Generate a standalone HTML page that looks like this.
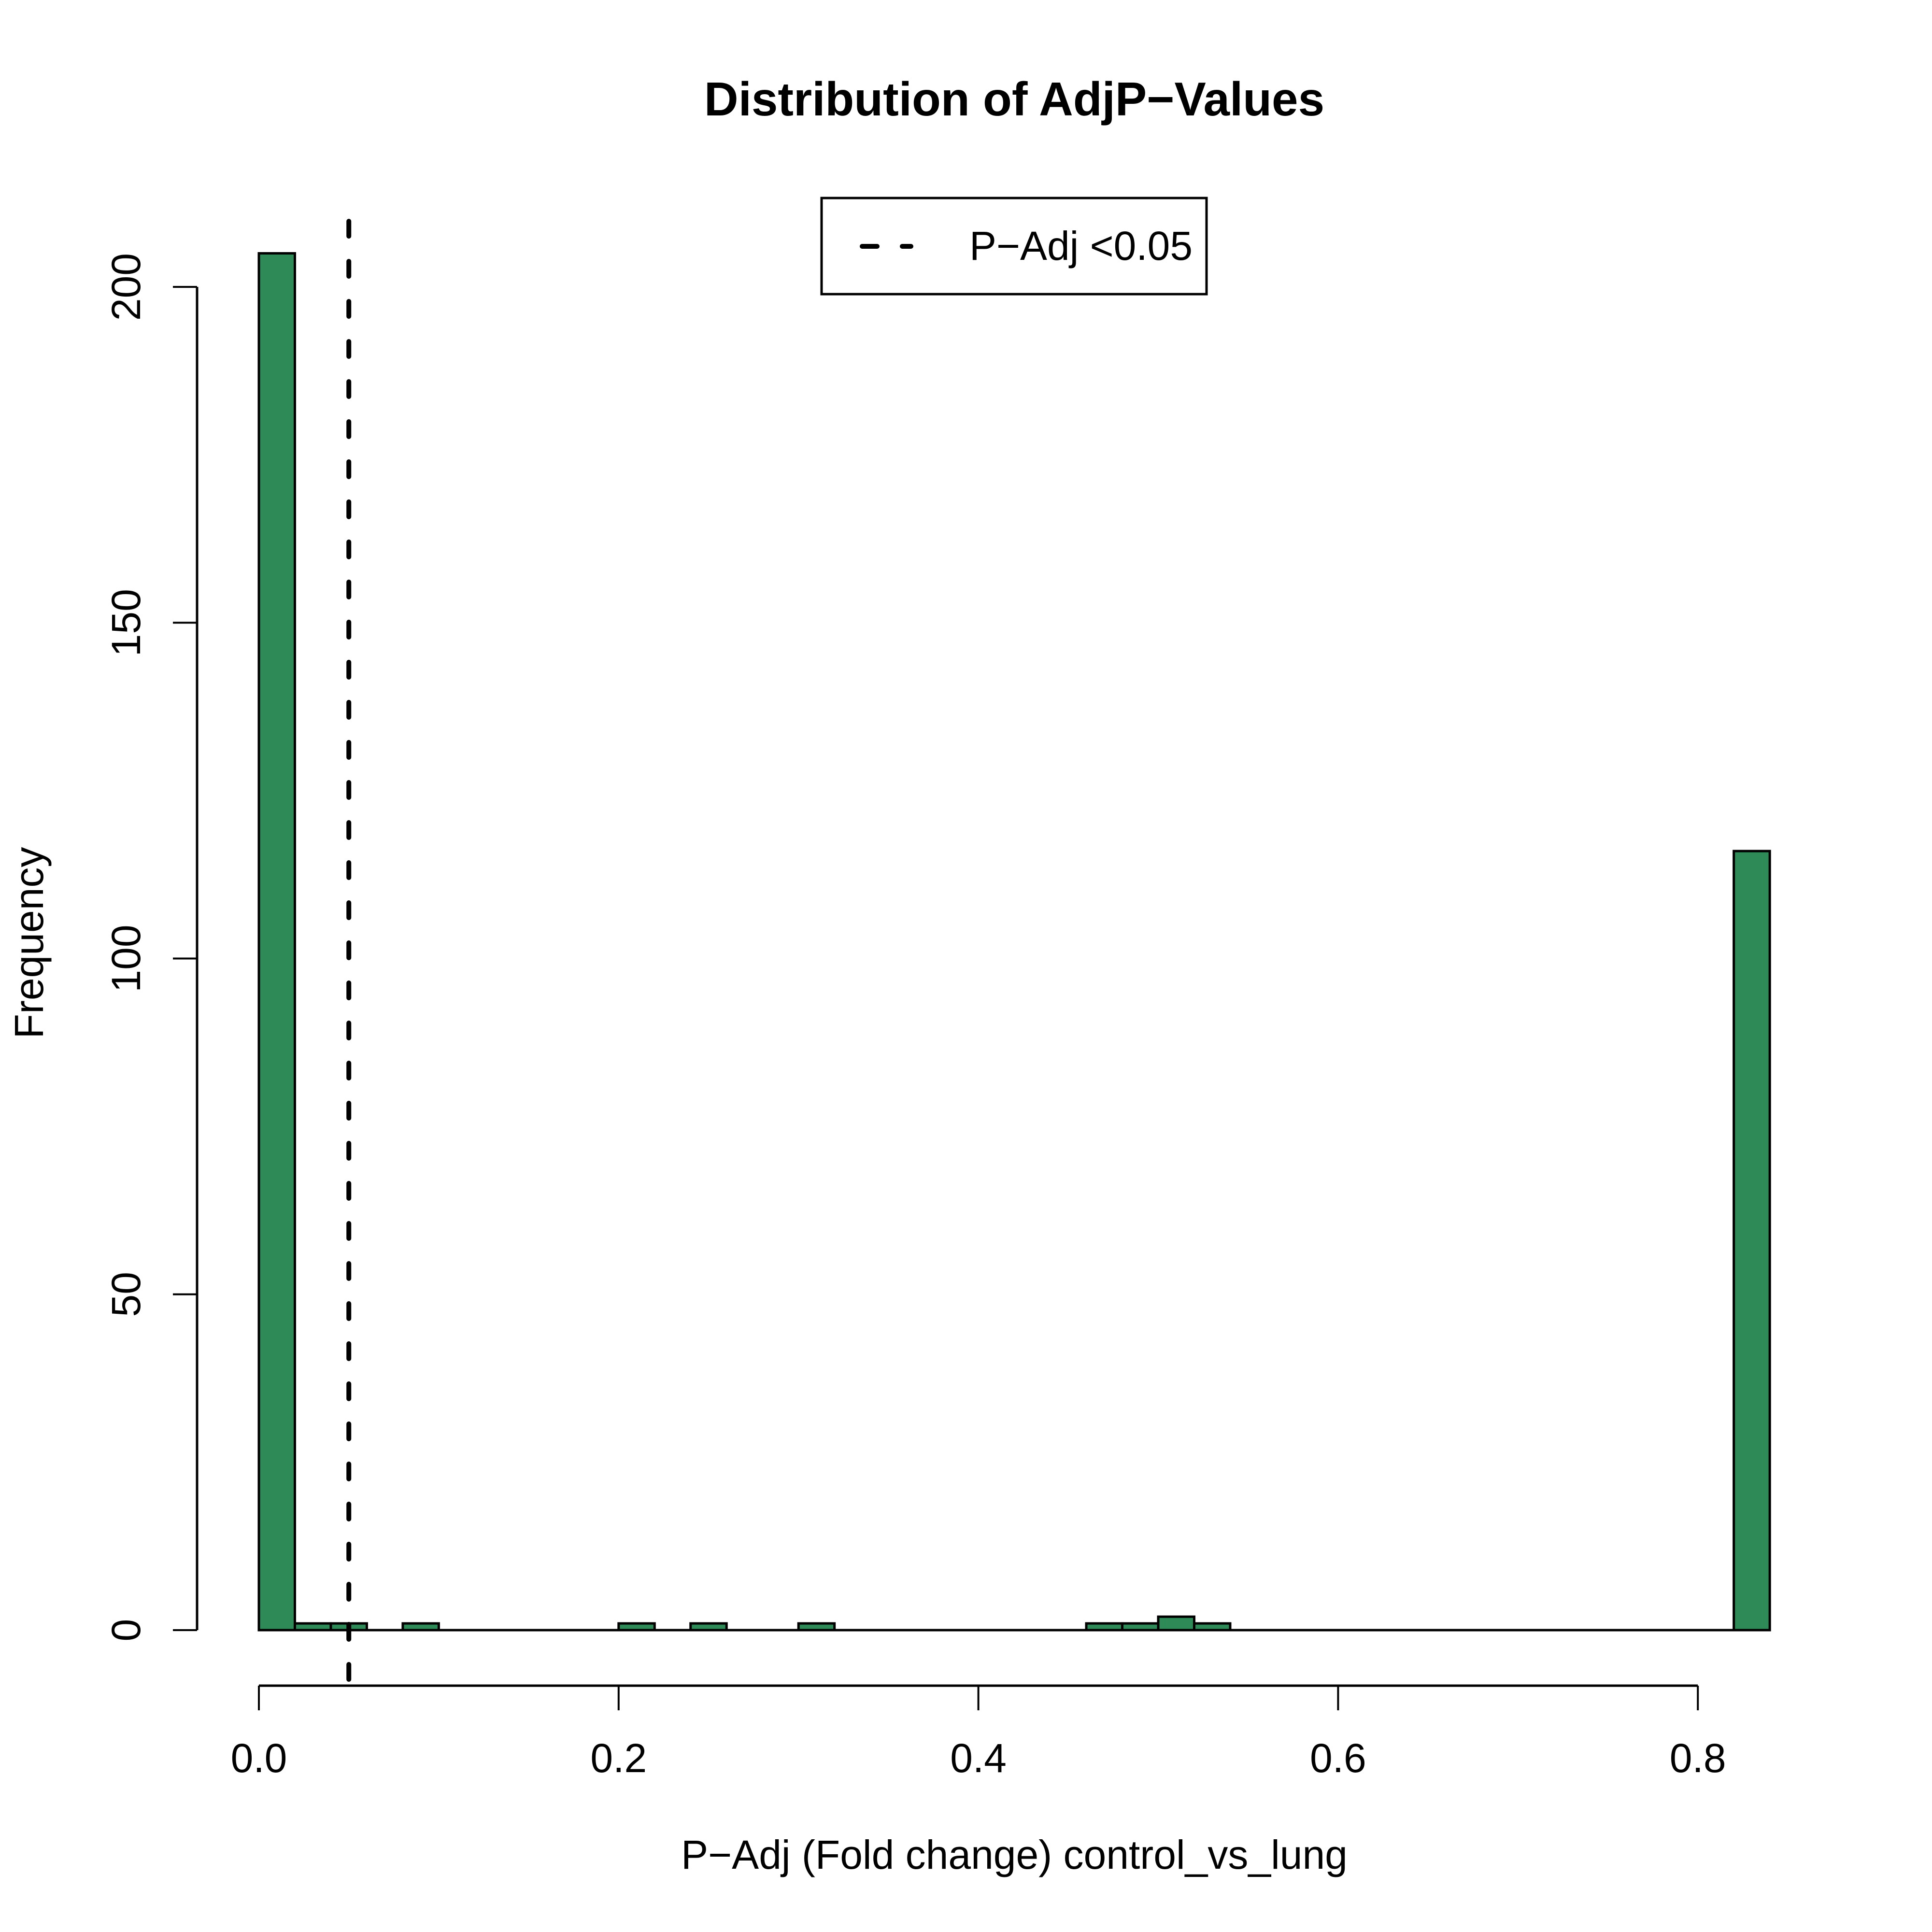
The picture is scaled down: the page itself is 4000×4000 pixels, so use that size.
<!DOCTYPE html>
<html><head><meta charset="utf-8"><style>
html,body{margin:0;padding:0;background:#fff;}
svg{display:block;font-family:"Liberation Sans",Arial,sans-serif;}
</style></head><body>
<svg id="chart" width="4000" height="4000" viewBox="0 0 4000 4000" xmlns="http://www.w3.org/2000/svg">
<rect x="0" y="0" width="4000" height="4000" fill="#fff"/>
<text x="2100" y="239" font-size="98" font-weight="bold" text-anchor="middle">Distribution of AdjP−Values</text>
<text x="2100" y="3869" font-size="84" text-anchor="middle">P−Adj (Fold change) control_vs_lung</text>
<text x="89" y="1952" font-size="84" text-anchor="middle" transform="rotate(-90 89 1952)">Frequency</text>
<g id="bars"></g>
<g id="xaxis"></g>
<g id="yaxis"></g>
<g id="refline"></g>
<g>
<rect x="1701" y="410" width="797" height="199" fill="#fff" stroke="#000" stroke-width="5"/>
<line x1="1785" y1="510" x2="1886" y2="510" stroke="#000" stroke-width="10" stroke-linecap="round" stroke-dasharray="31 52"/>
<text x="2007" y="538" font-size="84" textLength="462" lengthAdjust="spacingAndGlyphs">P−Adj &lt;0.05</text>
</g>
</svg>
<script>
const binStarts = [0,0.02,0.04,0.06,0.08,0.10,0.12,0.14,0.16,0.18,0.20,0.22,0.24,0.26,0.28,0.30,0.32,0.34,0.36,0.38,0.40,0.42,0.44,0.46,0.48,0.50,0.52,0.54,0.56,0.58,0.60,0.62,0.64,0.66,0.68,0.70,0.72,0.74,0.76,0.78,0.80,0.82];
const counts = [205,1,1,0,1,0,0,0,0,0,1,0,1,0,0,1,0,0,0,0,0,0,0,1,1,2,1,0,0,0,0,0,0,0,0,0,0,0,0,0,0,116];
const binWidth = 0.02;
const xTicks = [0,0.2,0.4,0.6,0.8];
const xTickLabels = ["0.0","0.2","0.4","0.6","0.8"];
const yTicks = [0,50,100,150,200];
const yTickLabels = ["0","50","100","150","200"];
const threshold = 0.05;

const NS = "http://www.w3.org/2000/svg";
const X0 = 536, XPX = 3724, Y0 = 3375, YPX = 13.905;
function sx(v){return X0 + v*XPX;}
function sy(v){return Y0 - v*YPX;}
function mk(tag, attrs, parent){
  const el = document.createElementNS(NS, tag);
  for (const k in attrs) el.setAttribute(k, attrs[k]);
  parent.appendChild(el);
  return el;
}
const bars = document.getElementById('bars');
const base = mk('line',{x1:sx(binStarts[0]),y1:Y0,x2:sx(binStarts[binStarts.length-1]+binWidth),y2:Y0,stroke:'#000','stroke-width':5}, bars);


binStarts.forEach((b,i)=>{
  if (counts[i] <= 0) return;
  const x1 = sx(b), x2 = sx(b+binWidth), y = sy(counts[i]);
  const r = mk('rect',{x:x1,y:y,width:x2-x1,height:Y0-y,fill:'#2e8b57',stroke:'#000','stroke-width':5}, bars);
  
  
});
const xa = document.getElementById('xaxis');
const xl = mk('line',{x1:sx(xTicks[0]),y1:3490,x2:sx(xTicks[xTicks.length-1]),y2:3490,stroke:'#000','stroke-width':5}, xa);


xTicks.forEach((t,i)=>{
  const tk = mk('line',{x1:sx(t),y1:3490,x2:sx(t),y2:3541,stroke:'#000','stroke-width':4}, xa);
  
  
  const tx = mk('text',{x:sx(t),y:3669,'font-size':84,'text-anchor':'middle'}, xa);
  tx.textContent = xTickLabels[i];
  
  
});
const ya = document.getElementById('yaxis');
const yl = mk('line',{x1:408,y1:sy(yTicks[0]),x2:408,y2:sy(yTicks[yTicks.length-1]),stroke:'#000','stroke-width':5}, ya);


yTicks.forEach((t,i)=>{
  const tk = mk('line',{x1:358,y1:sy(t),x2:408,y2:sy(t),stroke:'#000','stroke-width':4}, ya);
  
  
  const tx = mk('text',{x:290,y:sy(t),'font-size':84,'text-anchor':'middle',transform:'rotate(-90 290 '+sy(t)+')'}, ya);
  tx.textContent = yTickLabels[i];
  
  
});
const rl = document.getElementById('refline');
const dl = mk('line',{x1:sx(threshold),y1:458,x2:sx(threshold),y2:3500,stroke:'#000','stroke-width':10,'stroke-linecap':'round','stroke-dasharray':'31 52'}, rl);


</script>
</body></html>
